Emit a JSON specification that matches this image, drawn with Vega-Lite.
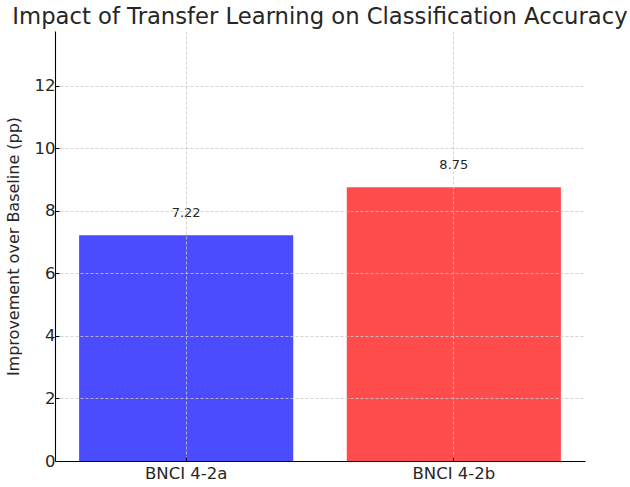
{
  "$schema": "https://vega.github.io/schema/vega-lite/v6.json",
  "width": 530,
  "height": 430,
  "autosize": {"type": "none"},
  "padding": {"left": 55, "top": 31, "right": 45, "bottom": 26},
  "title": {
    "text": "Impact of Transfer Learning on Classification Accuracy",
    "font": "DejaVu Sans",
    "fontSize": 22.7,
    "fontWeight": "normal",
    "color": "#262626",
    "anchor": "middle",
    "offset": 2
  },
  "config": {
    "view": {"stroke": null},
    "font": "DejaVu Sans"
  },
  "data": {
    "values": [
      {"dataset": "BNCI 4-2a", "improvement": 7.22},
      {"dataset": "BNCI 4-2b", "improvement": 8.75}
    ]
  },
  "encoding": {
    "x": {
      "field": "dataset",
      "type": "nominal",
      "sort": null,
      "scale": {"paddingInner": 0.2, "paddingOuter": 0.09},
      "axis": {
        "title": null,
        "labelAngle": 0,
        "labelFont": "DejaVu Sans",
        "labelFontSize": 16.5,
        "labelColor": "#262626",
        "labelPadding": 8,
        "domainColor": "#000000",
        "domainWidth": 1.1,
        "tickColor": "#000000",
        "tickSize": -4,
        "grid": true,
        "gridColor": "#c8c8c8",
        "gridDash": [3, 2],
        "gridWidth": 0.8,
        "bandPosition": 0.5,
        "zindex": 1
      }
    },
    "y": {
      "field": "improvement",
      "type": "quantitative",
      "scale": {"domain": [0, 13.75], "nice": false},
      "axis": {
        "title": "Improvement over Baseline (pp)",
        "titleFont": "DejaVu Sans",
        "titleFontSize": 16,
        "titleFontWeight": "normal",
        "titleColor": "#262626",
        "titlePadding": 13,
        "values": [0, 2, 4, 6, 8, 10, 12],
        "labelFont": "DejaVu Sans",
        "labelFontSize": 16.5,
        "labelColor": "#262626",
        "labelPadding": 4,
        "domainColor": "#000000",
        "domainWidth": 1.1,
        "tickColor": "#000000",
        "tickSize": -4,
        "grid": true,
        "gridColor": "#c8c8c8",
        "gridDash": [3, 2],
        "gridWidth": 0.8,
        "zindex": 1
      }
    }
  },
  "layer": [
    {
      "mark": {"type": "bar"},
      "encoding": {
        "color": {
          "field": "dataset",
          "type": "nominal",
          "scale": {"domain": ["BNCI 4-2a", "BNCI 4-2b"], "range": ["#4c4cff", "#ff4c4c"]},
          "legend": null
        }
      }
    },
    {
      "mark": {"type": "text", "dy": -22, "baseline": "middle", "fontSize": 13, "color": "#262626", "font": "DejaVu Sans"},
      "encoding": {
        "text": {"field": "improvement", "type": "quantitative", "format": ".2f"}
      }
    }
  ]
}
